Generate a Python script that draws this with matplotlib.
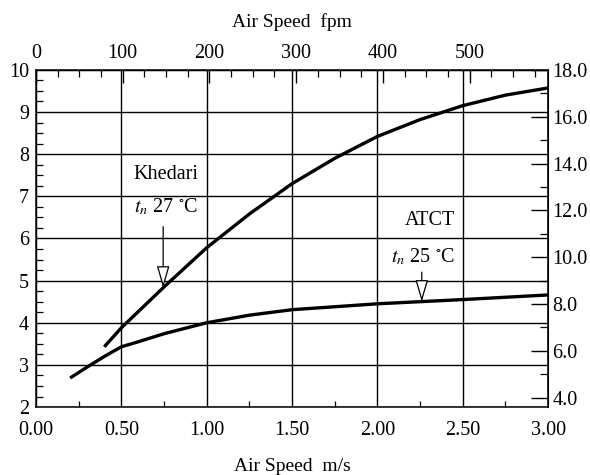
import numpy as np
import matplotlib.pyplot as plt
from matplotlib.ticker import MultipleLocator, FixedLocator

plt.rcParams['font.family'] = ['Liberation Serif', 'DejaVu Serif']
plt.rcParams['mathtext.fontset'] = 'stix'

# --- data ---
khedari_v = [0.40, 0.50, 0.75, 1.00, 1.25, 1.50, 1.75, 2.00, 2.25, 2.50, 2.75, 3.00]
khedari_t = [3.43, 3.88, 4.85, 5.78, 6.58, 7.30, 7.90, 8.42, 8.82, 9.15, 9.40, 9.57]

atct_v = [0.20, 0.30, 0.40, 0.50, 0.60, 0.75, 1.00, 1.25, 1.50, 2.00, 2.50, 3.00]
atct_t = [2.69, 2.95, 3.20, 3.43, 3.55, 3.74, 4.00, 4.18, 4.31, 4.45, 4.55, 4.66]

MS_TO_FPM = 196.85
C_TO_F = 1.8

FS = 14.5

fig = plt.figure(figsize=(5.9, 4.75), dpi=100)
ax = fig.add_axes([0.061, 0.143, 0.868, 0.710])

ax.plot(khedari_v, khedari_t, color='black', lw=2.4, solid_capstyle='butt')
ax.plot(atct_v, atct_t, color='black', lw=2.4, solid_capstyle='butt')

ax.set_xlim(0, 3)
ax.set_ylim(2, 10)

# grid
ax.xaxis.set_major_locator(MultipleLocator(0.5))
ax.xaxis.set_minor_locator(MultipleLocator(0.25))
ax.yaxis.set_major_locator(MultipleLocator(1))
ax.yaxis.set_minor_locator(MultipleLocator(0.25))
ax.grid(True, which='major', color='black', lw=1.0)
ax.xaxis.set_major_formatter(lambda v, p: f'{v:.2f}')

ax.tick_params(which='major', direction='in', length=0, labelsize=FS, pad=10)
ax.tick_params(axis='y', which='major', pad=5)
ax.tick_params(which='minor', direction='in', length=5, width=0.9)
ax.tick_params(axis='x', which='minor', length=4)
for s in ax.spines.values():
    s.set_linewidth(1.1)

# top axis in fpm
top = ax.secondary_xaxis('top', functions=(lambda x: x * MS_TO_FPM, lambda f: f / MS_TO_FPM))
top.xaxis.set_major_locator(FixedLocator([0, 100, 200, 300, 400, 500]))
top.xaxis.set_minor_locator(MultipleLocator(25))
top.tick_params(which='major', direction='in', length=9, width=1.0, labelsize=FS, pad=5)
top.tick_params(which='minor', direction='in', length=5, width=0.9)
top.set_xlabel('Air Speed  fpm', fontsize=14, labelpad=12)

# right axis in F-degree difference
right = ax.secondary_yaxis('right', functions=(lambda c: c * C_TO_F, lambda f: f / C_TO_F))
right.yaxis.set_major_locator(FixedLocator([4, 6, 8, 10, 12, 14, 16, 18]))
right.yaxis.set_minor_locator(MultipleLocator(1))
right.yaxis.set_major_formatter(lambda v, p: f'{v:.1f}')
right.tick_params(which='major', direction='in', length=12, width=1.0, labelsize=FS, pad=3)
right.tick_params(which='minor', direction='in', length=6, width=0.9)

ax.set_xlabel('Air Speed  m/s', fontsize=14, labelpad=13)

# annotations
arrow = dict(arrowstyle='-|>,head_length=0.75,head_width=0.22', fc='white', ec='black',
             lw=0.9, mutation_scale=18, shrinkA=0, shrinkB=0)

ax.text(0.76, 7.52, 'Khedari', fontsize=FS, ha='center', va='center')
ax.text(0.76, 6.74, r'$t_n$ 27 $^{\circ}$C', fontsize=FS, ha='center', va='center')
ax.annotate('', xy=(0.745, 4.83), xytext=(0.745, 6.28), arrowprops=arrow)

ax.text(2.31, 6.42, 'ATCT', fontsize=FS, ha='center', va='center')
ax.text(2.27, 5.56, r'$t_n$ 25 $^{\circ}$C', fontsize=FS, ha='center', va='center')
ax.annotate('', xy=(2.26, 4.50), xytext=(2.26, 5.2), arrowprops=arrow)

fig.savefig('out.png', dpi=100, facecolor='white')
